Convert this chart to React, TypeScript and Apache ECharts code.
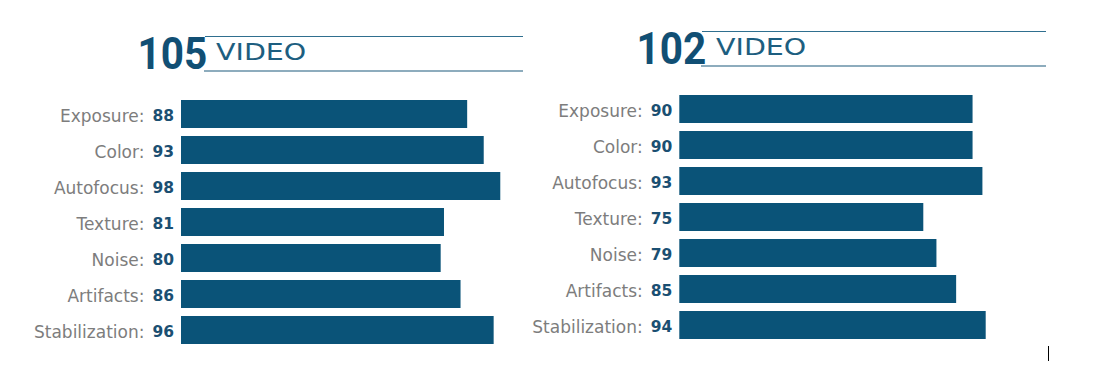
import React, { useEffect, useRef } from "react";
import * as echarts from "echarts";

const categories = ["Exposure", "Color", "Autofocus", "Texture", "Noise", "Artifacts", "Stabilization"];
const leftValues = [88, 93, 98, 81, 80, 86, 96];
const rightValues = [90, 90, 93, 75, 79, 85, 94];
const leftScore = "105";
const rightScore = "102";
const titleWord = "VIDEO";

const BAR = "#0a5378";
const GRAY = "#7d7d7d";
const NUM = "#1b4f72";
const TITLE = "#114f74";
const LINE = "#2f6f8f";

export default function App() {
  const ref = useRef<HTMLDivElement>(null);
  useEffect(() => {
    const chart = echarts.init(ref.current!, undefined, { renderer: "svg" });
    const label = (vals: number[]) => ({
      margin: 7,
      formatter: (v: string, i: number) => `{l|${v}:}{v|${vals[i]}}`,
      rich: {
        l: { fontFamily: "DejaVu Sans", fontSize: 17, color: GRAY, padding: [4, 0, 0, 0] },
        v: { fontFamily: "DejaVu Sans", fontSize: 15.5, fontWeight: "bold", color: NUM, padding: [4, 0, 0, 8] },
      },
    });
    const titleEls = (score: string, sx: number, sy: number, vx: number, vy: number, lx0: number, lx1: number, ly0: number, ly1: number) => [
      {
        type: "text", x: sx, y: sy, scaleX: 0.9,
        style: { text: score, fontFamily: "Roboto", fontWeight: "bold", fontSize: 45, fill: TITLE, textAlign: "left", textVerticalAlign: "middle", verticalAlign: "middle" },
      },
      {
        type: "text", x: vx, y: vy, scaleX: 1.24,
        style: { text: titleWord, fontFamily: "DejaVu Sans", fontSize: 23, fill: "#1d5e80", textAlign: "left", textVerticalAlign: "middle", verticalAlign: "middle" },
      },
      { type: "line", shape: { x1: lx0, y1: ly0, x2: lx1, y2: ly0 }, style: { stroke: LINE, lineWidth: 1.2 } },
      { type: "line", shape: { x1: lx0 - 1, y1: ly1, x2: lx1, y2: ly1 }, style: { stroke: "#1d5b7d", lineWidth: 1.2 } },
    ];
    chart.setOption({
      animation: false,
      grid: [
        { left: 181, top: 96, width: 325.9, height: 252 },
        { left: 679.3, top: 91, width: 326.1, height: 252 },
      ],
      xAxis: [
        { type: "value", gridIndex: 0, min: 1.57, max: 100, show: false },
        { type: "value", gridIndex: 1, min: 0.7, max: 100, show: false },
      ],
      yAxis: [
        { type: "category", gridIndex: 0, data: categories, inverse: true, axisLine: { show: false }, axisTick: { show: false }, axisLabel: label(leftValues) },
        { type: "category", gridIndex: 1, data: categories, inverse: true, axisLine: { show: false }, axisTick: { show: false }, axisLabel: label(rightValues) },
      ],
      series: [
        { type: "bar", xAxisIndex: 0, yAxisIndex: 0, data: leftValues, barWidth: 28, itemStyle: { color: BAR }, clip: true },
        { type: "bar", xAxisIndex: 1, yAxisIndex: 1, data: rightValues, barWidth: 28, itemStyle: { color: BAR }, clip: true },
      ],
      graphic: [
        ...titleEls(leftScore, 137.5, 53, 216, 51.7, 205, 523, 36.5, 71),
        ...titleEls(rightScore, 636.5, 48.2, 716, 46.7, 702, 1046, 31.5, 66),
        { type: "line", shape: { x1: 1048.5, y1: 346, x2: 1048.5, y2: 361 }, style: { stroke: "#000", lineWidth: 1 } },
      ],
    });
    return () => chart.dispose();
  }, []);
  return <div ref={ref} style={{ position: "fixed", left: 0, top: 0, width: 1096, height: 375, background: "#fff" }} />;
}
